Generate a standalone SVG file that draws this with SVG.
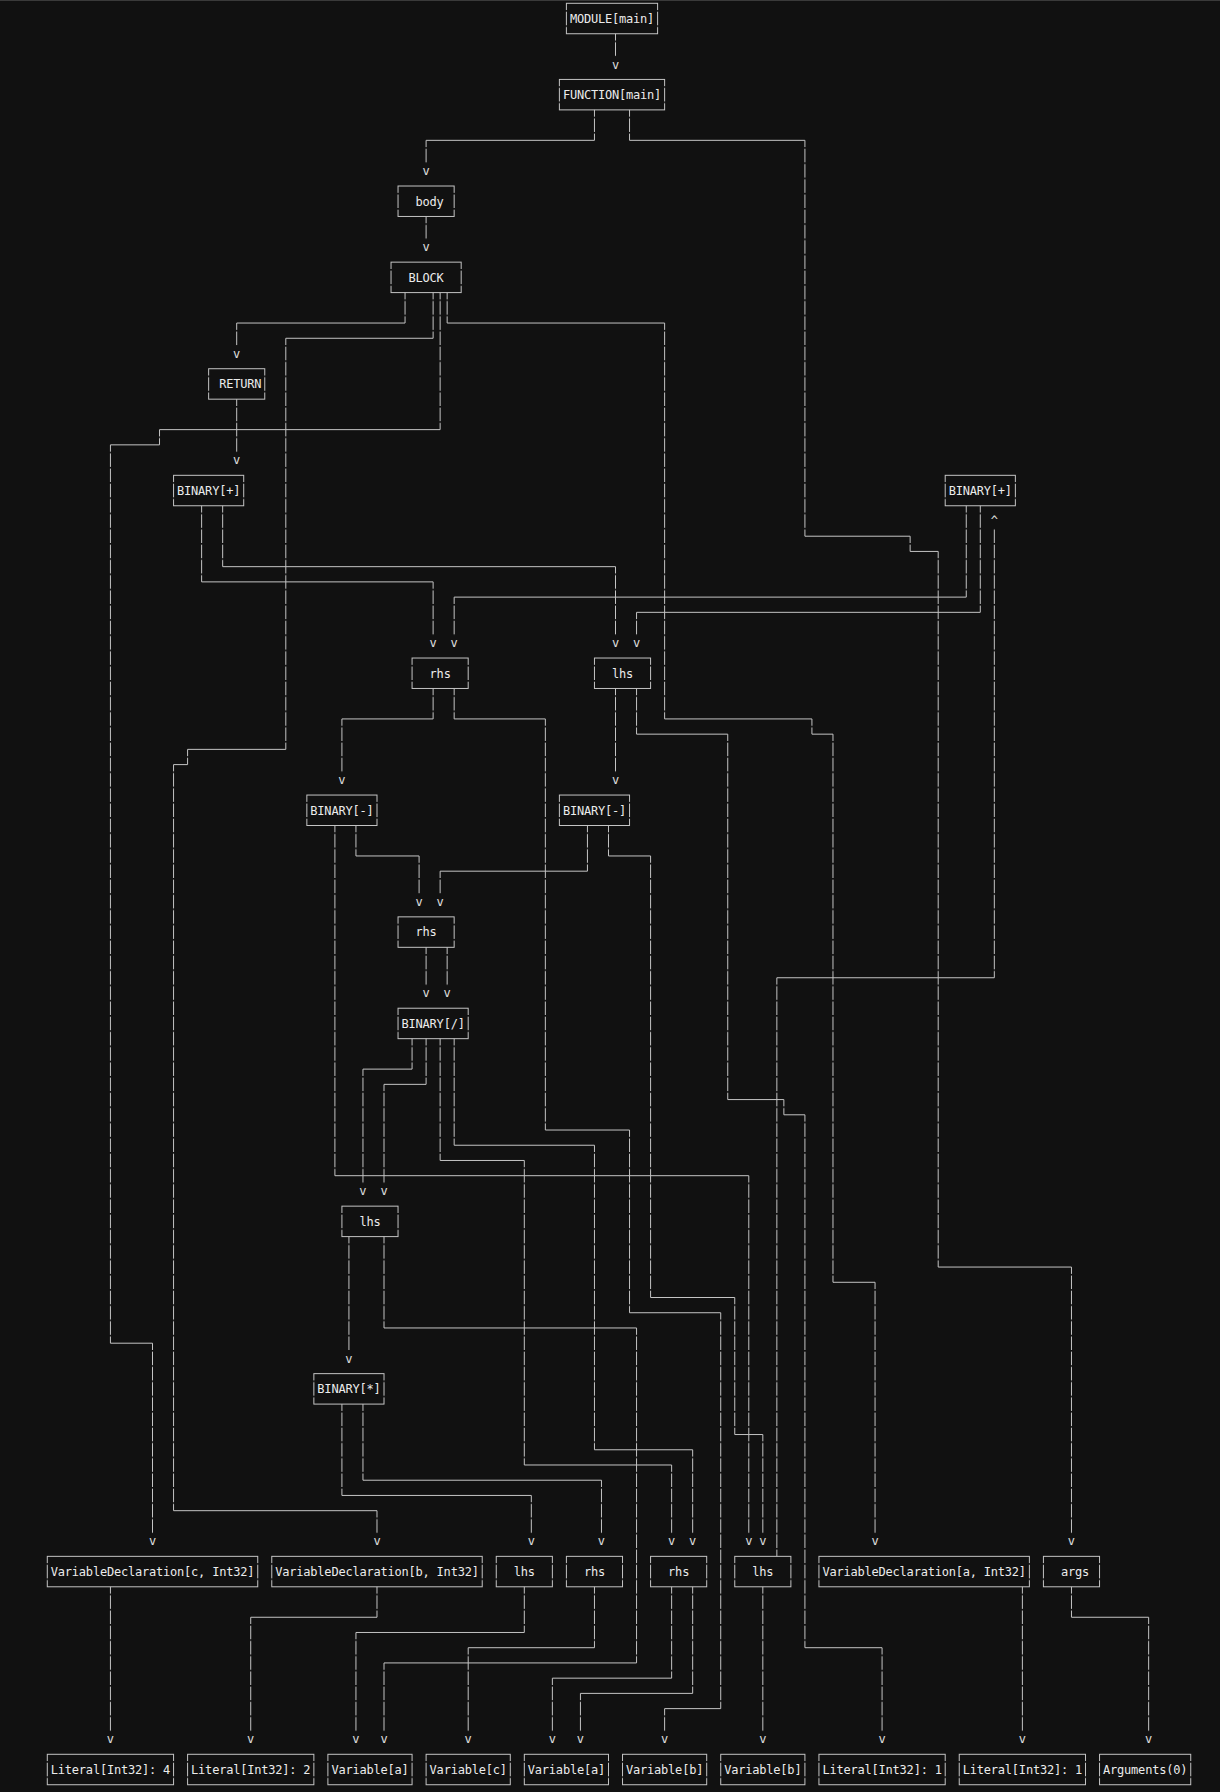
<svg xmlns="http://www.w3.org/2000/svg" width="1220" height="1792" viewBox="0 0 1220 1792">
<defs>
<pattern id="rowpat" patternUnits="userSpaceOnUse" x="0" y="10.113" width="1220" height="15.226">
<rect width="1220" height="15.226" fill="#fff"/>
<rect width="1220" height="1.6" fill="#000"/>
</pattern>
<mask id="gaps" maskUnits="userSpaceOnUse" x="0" y="0" width="1220" height="1792">
<rect width="1220" height="1792" fill="url(#rowpat)"/>
</mask>
</defs>
<style>
.box{fill:none;stroke:#c4c4c4;stroke-width:1}
.lbl{font-family:"DejaVu Sans Mono",monospace;font-size:12px;letter-spacing:-0.21px;fill:#ececec}
.arr{font-family:"DejaVu Sans Mono",monospace;font-size:12px;fill:#e0e0e0;text-anchor:middle}
.edge{fill:none;stroke:#c4c4c4;stroke-width:1;vector-effect:non-scaling-stroke}
</style>
<rect width="1220" height="1792" fill="#111111"/>
<rect width="1220" height="1" fill="#3a3a3a"/>

<g id="connectors">
<g mask="url(#gaps)">
<g transform="translate(5.2 3.3) scale(7.015 15.226)">
<path class="edge" d="M87 2V3.5"/>
<path class="edge" d="M84 7V9H60V10.5"/>
<path class="edge" d="M89 7V9H114V35H129V36H133V83H152V100.5"/>
<path class="edge" d="M60 14V15.5"/>
<path class="edge" d="M57 19V21H33V22.5"/>
<path class="edge" d="M61 19V22H40V49H26V50H24V99H53V100.5"/>
<path class="edge" d="M62 19V28H22V29H15V88H21V100.5"/>
<path class="edge" d="M63 19V21H94V47H115V48H118V84H124V100.5"/>
<path class="edge" d="M33 26V29.5"/>
<path class="edge" d="M31 33V37H87V41.5"/>
<path class="edge" d="M28 33V38H61V41.5"/>
<path class="edge" d="M137 33V39H64V41.5"/>
<path class="edge" d="M139 33V40H90V41.5"/>
<path class="edge" d="M110 102V64H141V34.5"/>
<path class="edge" d="M61 45V47H48V50.5"/>
<path class="edge" d="M64 45V47H77V74H89V86H102V112H94V113.5"/>
<path class="edge" d="M87 45V50.5"/>
<path class="edge" d="M90 45V48H103V72H111V73H114V108H125V113.5"/>
<path class="edge" d="M50 54V56H59V58.5"/>
<path class="edge" d="M47 54V77H106V100.5"/>
<path class="edge" d="M83 54V57H62V58.5"/>
<path class="edge" d="M86 54V56H92V85H104V94H108V100.5"/>
<path class="edge" d="M60 62V64.5"/>
<path class="edge" d="M63 62V64.5"/>
<path class="edge" d="M58 68V70H51V77.5"/>
<path class="edge" d="M60 68V71H54V77.5"/>
<path class="edge" d="M62 68V76H74V96H95V100.5"/>
<path class="edge" d="M64 68V75H84V95H98V100.5"/>
<path class="edge" d="M49 81V88.5"/>
<path class="edge" d="M54 81V87H90V109H54V113.5"/>
<path class="edge" d="M51 92V97H85V100.5"/>
<path class="edge" d="M48 92V98H75V100.5"/>
<path class="edge" d="M74 104V107H50V113.5"/>
<path class="edge" d="M84 104V108H66V113.5"/>
<path class="edge" d="M95 104V110H78V113.5"/>
<path class="edge" d="M98 104V111H82V113.5"/>
<path class="edge" d="M108 104V113.5"/>
<path class="edge" d="M15 104V113.5"/>
<path class="edge" d="M53 104V106H35V113.5"/>
<path class="edge" d="M145 104V113.5"/>
<path class="edge" d="M152 104V106H163V113.5"/>
</g>
</g>
<g id="arrowheads">
<text class="arr" x="615.51" y="68.5">v</text>
<text class="arr" x="426.10" y="175.09">v</text>
<text class="arr" x="426.10" y="251.22">v</text>
<text class="arr" x="236.70" y="357.8">v</text>
<text class="arr" x="236.70" y="464.38">v</text>
<text class="arr" x="433.12" y="647.09">v</text>
<text class="arr" x="454.16" y="647.09">v</text>
<text class="arr" x="615.51" y="647.09">v</text>
<text class="arr" x="636.55" y="647.09">v</text>
<text class="arr" x="341.92" y="784.13">v</text>
<text class="arr" x="615.51" y="784.13">v</text>
<text class="arr" x="419.09" y="905.93">v</text>
<text class="arr" x="440.13" y="905.93">v</text>
<text class="arr" x="426.10" y="997.29">v</text>
<text class="arr" x="447.15" y="997.29">v</text>
<text class="arr" x="362.97" y="1195.23">v</text>
<text class="arr" x="384.01" y="1195.23">v</text>
<text class="arr" x="348.94" y="1362.71">v</text>
<text class="arr" x="152.52" y="1545.43">v</text>
<text class="arr" x="377.00" y="1545.43">v</text>
<text class="arr" x="531.33" y="1545.43">v</text>
<text class="arr" x="601.48" y="1545.43">v</text>
<text class="arr" x="671.63" y="1545.43">v</text>
<text class="arr" x="692.67" y="1545.43">v</text>
<text class="arr" x="748.79" y="1545.43">v</text>
<text class="arr" x="762.82" y="1545.43">v</text>
<text class="arr" x="875.06" y="1545.43">v</text>
<text class="arr" x="1071.48" y="1545.43">v</text>
<text class="arr" x="110.43" y="1743.36">v</text>
<text class="arr" x="250.73" y="1743.36">v</text>
<text class="arr" x="355.95" y="1743.36">v</text>
<text class="arr" x="384.01" y="1743.36">v</text>
<text class="arr" x="468.19" y="1743.36">v</text>
<text class="arr" x="552.37" y="1743.36">v</text>
<text class="arr" x="580.43" y="1743.36">v</text>
<text class="arr" x="664.61" y="1743.36">v</text>
<text class="arr" x="762.82" y="1743.36">v</text>
<text class="arr" x="882.08" y="1743.36">v</text>
<text class="arr" x="1022.38" y="1743.36">v</text>
<text class="arr" x="1148.65" y="1743.36">v</text>
<text class="arr" x="994.32" y="525.28">^</text>
</g>
</g>

<g id="n-module"><rect class="box" mask="url(#gaps)" x="566.40" y="3.30" width="91.20" height="30.45"/><text class="lbl" x="569.91" y="22.83">MODULE[main]</text></g>
<g id="n-function"><rect class="box" mask="url(#gaps)" x="559.39" y="79.43" width="105.23" height="30.45"/><text class="lbl" x="562.89" y="98.96">FUNCTION[main]</text></g>
<g id="n-body"><rect class="box" mask="url(#gaps)" x="398.04" y="186.01" width="56.12" height="30.45"/><text class="lbl" x="415.58" y="205.54">body</text></g>
<g id="n-block"><rect class="box" mask="url(#gaps)" x="391.03" y="262.14" width="70.15" height="30.45"/><text class="lbl" x="408.56" y="281.67">BLOCK</text></g>
<g id="n-return"><rect class="box" mask="url(#gaps)" x="208.64" y="368.72" width="56.12" height="30.45"/><text class="lbl" x="219.16" y="388.25">RETURN</text></g>
<g id="n-binadd-1"><rect class="box" mask="url(#gaps)" x="173.56" y="475.31" width="70.15" height="30.45"/><text class="lbl" x="177.07" y="494.83">BINARY[+]</text></g>
<g id="n-binadd-2"><rect class="box" mask="url(#gaps)" x="945.21" y="475.31" width="70.15" height="30.45"/><text class="lbl" x="948.72" y="494.83">BINARY[+]</text></g>
<g id="n-rhs-1"><rect class="box" mask="url(#gaps)" x="412.07" y="658.02" width="56.12" height="30.45"/><text class="lbl" x="429.61" y="677.54">rhs</text></g>
<g id="n-lhs-1"><rect class="box" mask="url(#gaps)" x="594.46" y="658.02" width="56.12" height="30.45"/><text class="lbl" x="612.00" y="677.54">lhs</text></g>
<g id="n-binsub-1"><rect class="box" mask="url(#gaps)" x="306.85" y="795.05" width="70.15" height="30.45"/><text class="lbl" x="310.35" y="814.58">BINARY[-]</text></g>
<g id="n-binsub-2"><rect class="box" mask="url(#gaps)" x="559.39" y="795.05" width="70.15" height="30.45"/><text class="lbl" x="562.89" y="814.58">BINARY[-]</text></g>
<g id="n-rhs-2"><rect class="box" mask="url(#gaps)" x="398.04" y="916.86" width="56.12" height="30.45"/><text class="lbl" x="415.58" y="936.39">rhs</text></g>
<g id="n-bindiv"><rect class="box" mask="url(#gaps)" x="398.04" y="1008.22" width="70.15" height="30.45"/><text class="lbl" x="401.55" y="1027.74">BINARY[/]</text></g>
<g id="n-lhs-2"><rect class="box" mask="url(#gaps)" x="341.92" y="1206.15" width="56.12" height="30.45"/><text class="lbl" x="359.46" y="1225.68">lhs</text></g>
<g id="n-binmul"><rect class="box" mask="url(#gaps)" x="313.86" y="1373.64" width="70.15" height="30.45"/><text class="lbl" x="317.37" y="1393.17">BINARY[*]</text></g>
<g id="n-vardecl-c"><rect class="box" mask="url(#gaps)" x="47.29" y="1556.35" width="210.45" height="30.45"/><text class="lbl" x="50.80" y="1575.88">VariableDeclaration[c, Int32]</text></g>
<g id="n-vardecl-b"><rect class="box" mask="url(#gaps)" x="271.77" y="1556.35" width="210.45" height="30.45"/><text class="lbl" x="275.28" y="1575.88">VariableDeclaration[b, Int32]</text></g>
<g id="n-lhs-3"><rect class="box" mask="url(#gaps)" x="496.25" y="1556.35" width="56.12" height="30.45"/><text class="lbl" x="513.79" y="1575.88">lhs</text></g>
<g id="n-rhs-3"><rect class="box" mask="url(#gaps)" x="566.40" y="1556.35" width="56.12" height="30.45"/><text class="lbl" x="583.94" y="1575.88">rhs</text></g>
<g id="n-rhs-4"><rect class="box" mask="url(#gaps)" x="650.58" y="1556.35" width="56.12" height="30.45"/><text class="lbl" x="668.12" y="1575.88">rhs</text></g>
<g id="n-lhs-4"><rect class="box" mask="url(#gaps)" x="734.76" y="1556.35" width="56.12" height="30.45"/><text class="lbl" x="752.30" y="1575.88">lhs</text></g>
<g id="n-vardecl-a"><rect class="box" mask="url(#gaps)" x="818.94" y="1556.35" width="210.45" height="30.45"/><text class="lbl" x="822.45" y="1575.88">VariableDeclaration[a, Int32]</text></g>
<g id="n-args"><rect class="box" mask="url(#gaps)" x="1043.42" y="1556.35" width="56.12" height="30.45"/><text class="lbl" x="1060.96" y="1575.88">args</text></g>
<g id="n-lit4"><rect class="box" mask="url(#gaps)" x="47.29" y="1754.29" width="126.27" height="30.45"/><text class="lbl" x="50.80" y="1773.82">Literal[Int32]: 4</text></g>
<g id="n-lit2"><rect class="box" mask="url(#gaps)" x="187.59" y="1754.29" width="126.27" height="30.45"/><text class="lbl" x="191.10" y="1773.82">Literal[Int32]: 2</text></g>
<g id="n-var-a-1"><rect class="box" mask="url(#gaps)" x="327.89" y="1754.29" width="84.18" height="30.45"/><text class="lbl" x="331.40" y="1773.82">Variable[a]</text></g>
<g id="n-var-c"><rect class="box" mask="url(#gaps)" x="426.10" y="1754.29" width="84.18" height="30.45"/><text class="lbl" x="429.61" y="1773.82">Variable[c]</text></g>
<g id="n-var-a-2"><rect class="box" mask="url(#gaps)" x="524.31" y="1754.29" width="84.18" height="30.45"/><text class="lbl" x="527.82" y="1773.82">Variable[a]</text></g>
<g id="n-var-b-1"><rect class="box" mask="url(#gaps)" x="622.52" y="1754.29" width="84.18" height="30.45"/><text class="lbl" x="626.03" y="1773.82">Variable[b]</text></g>
<g id="n-var-b-2"><rect class="box" mask="url(#gaps)" x="720.73" y="1754.29" width="84.18" height="30.45"/><text class="lbl" x="724.24" y="1773.82">Variable[b]</text></g>
<g id="n-lit1-a"><rect class="box" mask="url(#gaps)" x="818.94" y="1754.29" width="126.27" height="30.45"/><text class="lbl" x="822.45" y="1773.82">Literal[Int32]: 1</text></g>
<g id="n-lit1-b"><rect class="box" mask="url(#gaps)" x="959.24" y="1754.29" width="126.27" height="30.45"/><text class="lbl" x="962.75" y="1773.82">Literal[Int32]: 1</text></g>
<g id="n-arguments"><rect class="box" mask="url(#gaps)" x="1099.54" y="1754.29" width="91.20" height="30.45"/><text class="lbl" x="1103.05" y="1773.82">Arguments(0)</text></g>
</svg>
